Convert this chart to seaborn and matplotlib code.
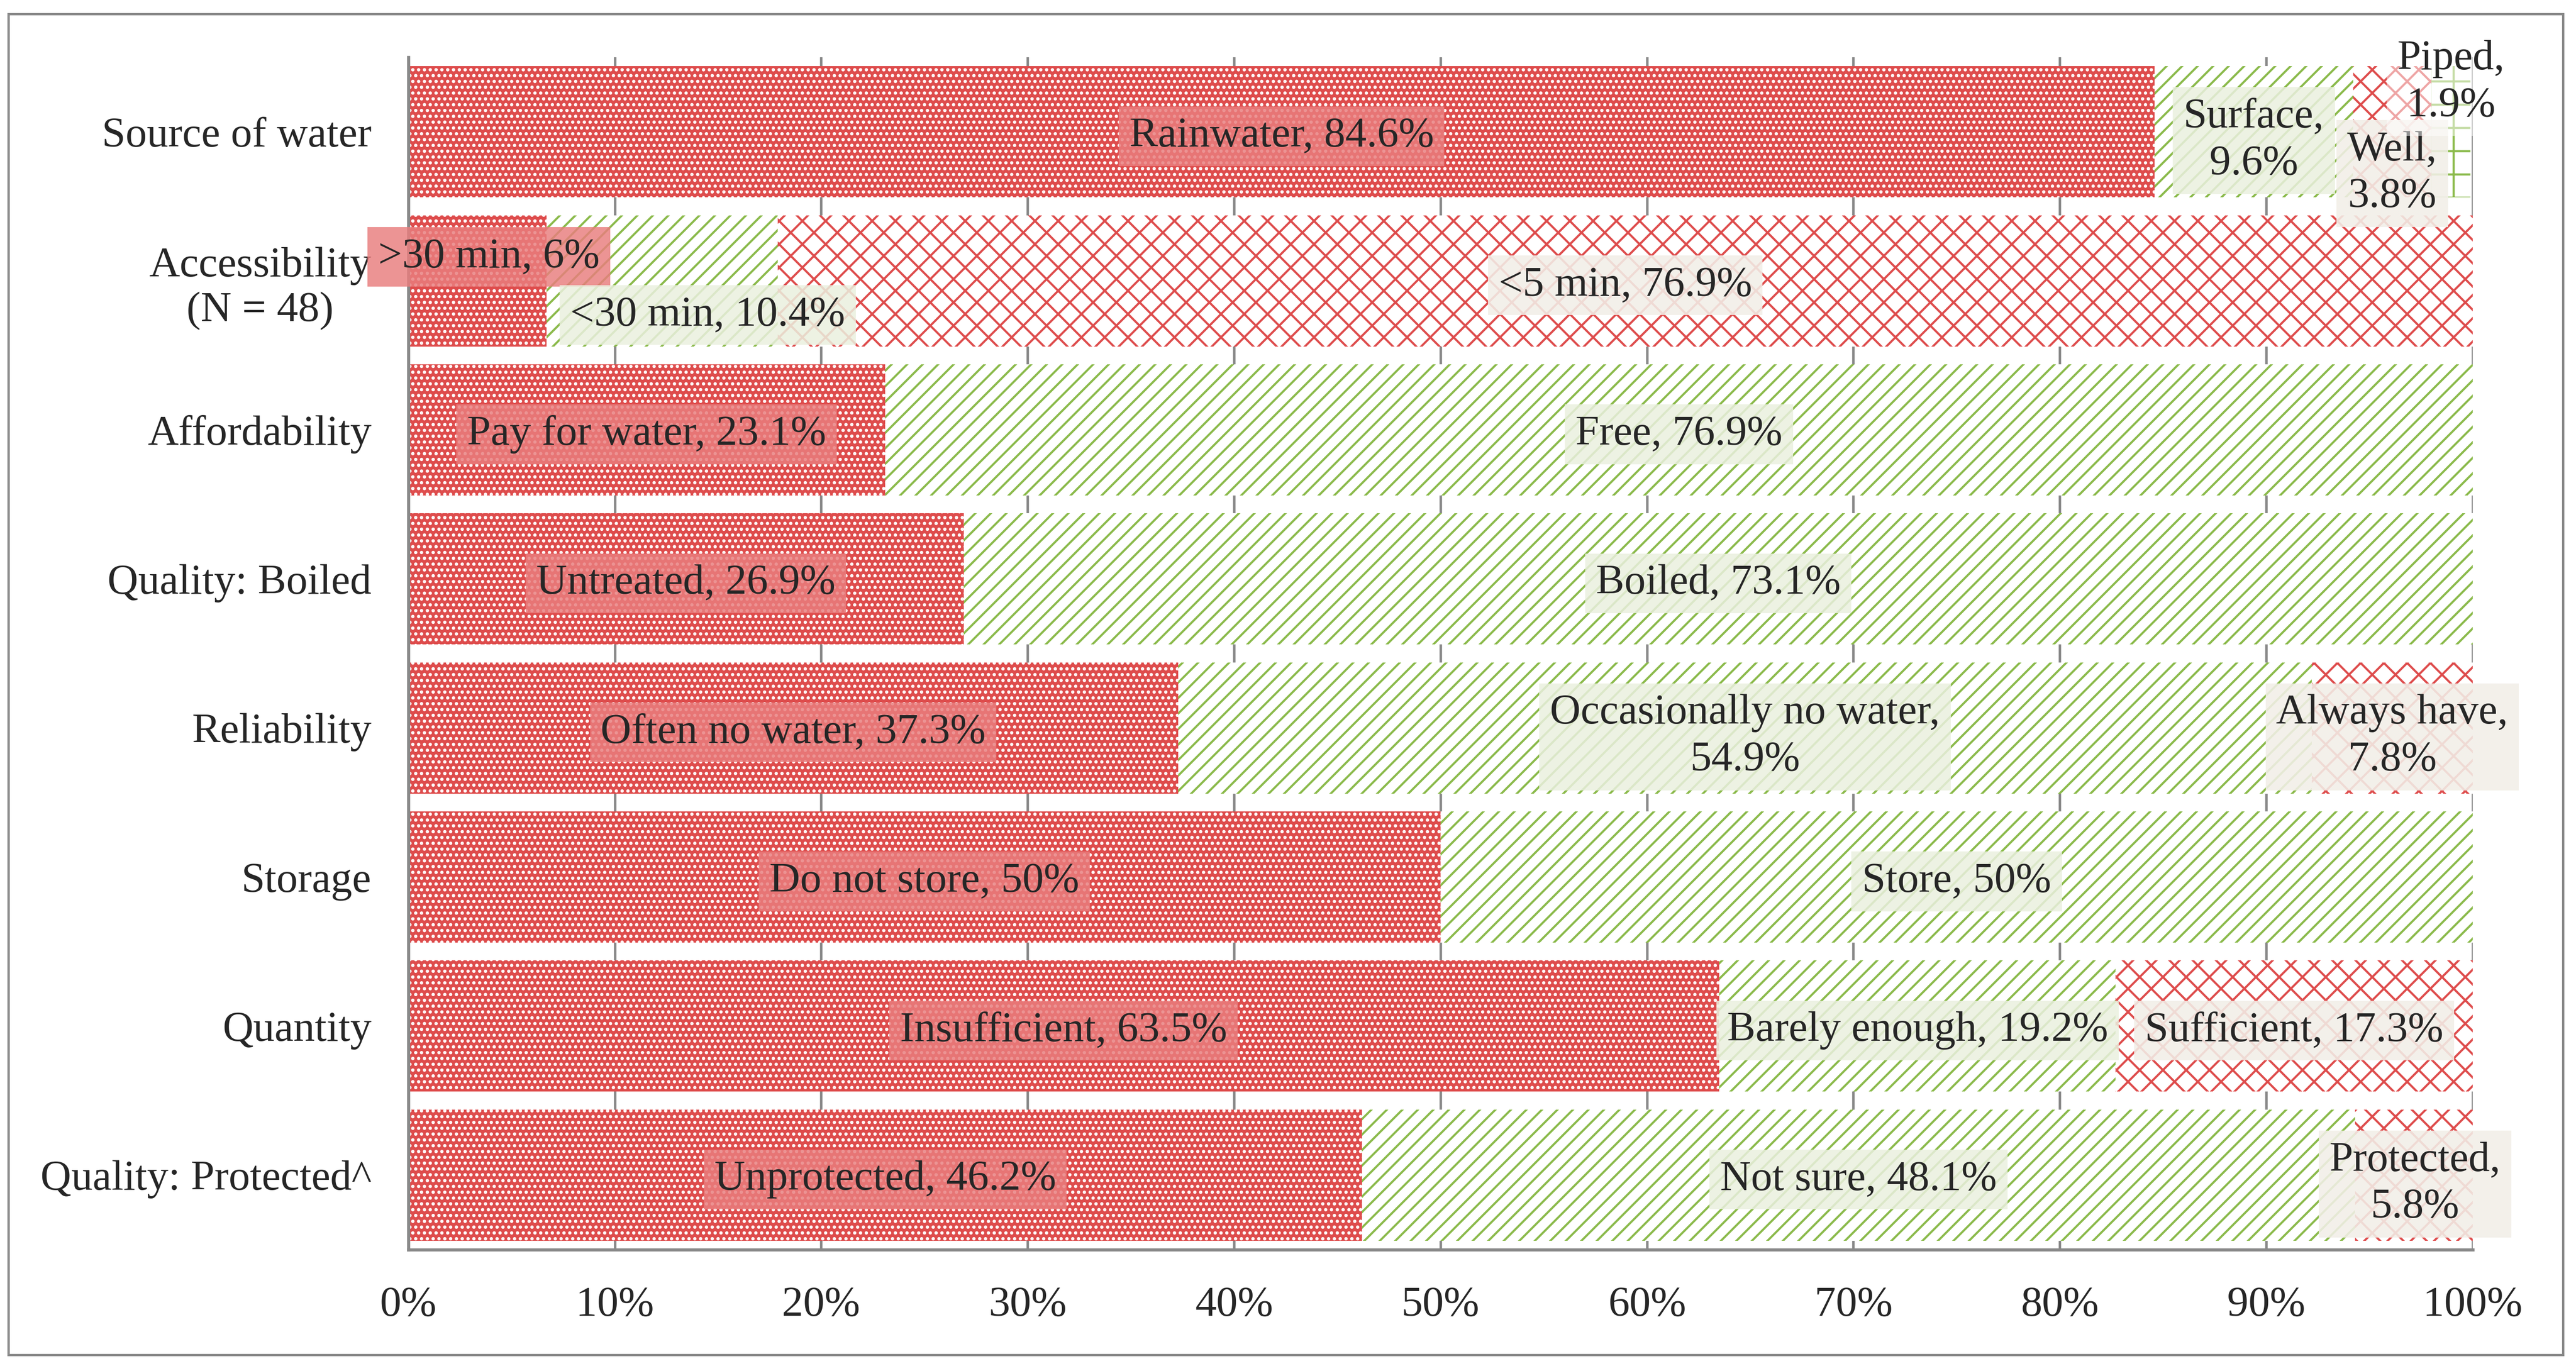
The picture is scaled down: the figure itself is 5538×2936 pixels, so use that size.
import matplotlib
matplotlib.use("Agg")
import matplotlib.pyplot as plt
from matplotlib.patches import Rectangle
from matplotlib.ticker import MultipleLocator, PercentFormatter
import numpy as np
import pandas as pd
import seaborn as sns

# ── data ─────────────────────────────────────────
categories = ["Source of water", "Accessibility\n(N = 48)", "Affordability",
              "Quality: Boiled", "Reliability", "Storage", "Quantity",
              "Quality: Protected^"]

# segment shares (%) left to right, as the bars are drawn
seg1 = [84.6, 6.7, 23.1, 26.9, 37.3, 50.0, 63.5, 46.2]
seg2 = [9.6, 11.2, 76.9, 73.1, 54.9, 50.0, 19.2, 48.1]
seg3 = [3.8, 82.1, 0.0, 0.0, 7.8, 0.0, 17.3, 5.8]
seg4 = [1.9, 0.0, 0.0, 0.0, 0.0, 0.0, 0.0, 0.0]

labels1 = ["Rainwater, 84.6%", ">30 min, 6%", "Pay for water, 23.1%",
           "Untreated, 26.9%", "Often no water, 37.3%", "Do not store, 50%",
           "Insufficient, 63.5%", "Unprotected, 46.2%"]
labels2 = ["Surface,\n9.6%", "<30 min, 10.4%", "Free, 76.9%", "Boiled, 73.1%",
           "Occasionally no water,\n54.9%", "Store, 50%",
           "Barely enough, 19.2%", "Not sure, 48.1%"]
labels3 = ["Well,\n3.8%", "<5 min, 76.9%", "", "", "Always have,\n7.8%", "",
           "Sufficient, 17.3%", "Protected,\n5.8%"]
labels4 = ["Piped,\n1.9%", "", "", "", "", "", "", ""]

RED = "#DE4C4C"
GREEN = "#8BBA4B"
GREY = "#898989"
FS = 22

# per level: face, hatch colour, hatch, label box colour, box alpha
styles = [
    (RED, "white", "....", "#E97E7E", 0.83),
    ("white", GREEN, "///", "#EAF0DF", 0.85),
    ("white", RED, "xx", "#F2EFE8", 0.88),
    ("white", GREEN, "+", "white", 0.5),
]

# label nudges (level, row) -> (dx in %, dy in rows)
nudges = {(3, 0): (0.0, 0.22), (4, 0): (0.0, -0.39),
          (1, 1): (0.55, -0.19), (2, 1): (2.2, 0.2)}

sns.set_style("white")
plt.rcParams["font.family"] = ["Liberation Serif", "DejaVu Serif"]
plt.rcParams["hatch.linewidth"] = 1.1

fig = plt.figure(figsize=(5538 / 300, 2936 / 300), dpi=300)
ax = fig.add_axes([0.1585, 0.0852, 0.8014, 0.8729])

segs = [seg1, seg2, seg3, seg4]
cums = np.cumsum(np.array(segs), axis=0)

# stacked bars: draw longest cumulative first, shorter ones on top
for lvl in range(3, -1, -1):
    face, hcol, hatch, _, _ = styles[lvl]
    ends = np.where(np.array(segs[lvl]) > 0, cums[lvl], 0.0)
    df = pd.DataFrame({"category": categories, "end": ends})
    sns.barplot(data=df, x="end", y="category", orient="h", order=categories,
                width=0.88, color=face, saturation=1, edgecolor=hcol,
                linewidth=0, hatch=hatch, ax=ax, zorder=2)

# segment labels
all_labels = [labels1, labels2, labels3, labels4]
for lvl in range(4):
    _, _, _, boxc, boxa = styles[lvl]
    for row, txt in enumerate(all_labels[lvl]):
        if not txt:
            continue
        start = cums[lvl][row] - segs[lvl][row]
        xc = start + segs[lvl][row] / 2
        dx, dy = nudges.get((lvl + 1, row), (0.0, 0.0))
        ax.text(xc + dx, row + dy, txt, ha="center", va="center_baseline",
                fontsize=FS, linespacing=1.3, zorder=5, clip_on=False,
                bbox=dict(boxstyle="square,pad=0.25", fc=boxc, ec="none",
                          alpha=boxa))

ax.set_xlim(0, 100)
ax.set_ylim(7.5, -0.5)
ax.xaxis.set_major_locator(MultipleLocator(10))
ax.xaxis.set_major_formatter(PercentFormatter(decimals=0))
ax.set_yticks(np.arange(len(categories)))
ax.set_yticklabels(categories, multialignment="center", fontsize=FS)
ax.set_xlabel("")
ax.set_ylabel("")
ax.tick_params(axis="x", length=0, pad=19, labelsize=FS)
ax.tick_params(axis="y", length=0, pad=19)

ax.set_axisbelow(True)
ax.grid(axis="x", color=GREY, linewidth=1.3, zorder=0)
ax.grid(axis="y", visible=False)
for side in ["top", "right"]:
    ax.spines[side].set_visible(False)
for side in ["left", "bottom"]:
    ax.spines[side].set_color(GREY)
    ax.spines[side].set_linewidth(1.6)
    ax.spines[side].set_zorder(3)

# outer frame around the figure
fig.patches.append(Rectangle((0.00325, 0.0082), 0.9917, 0.9816,
                             transform=fig.transFigure, fill=False,
                             edgecolor=GREY, linewidth=1.2))

plt.savefig("out.png", dpi=300)
